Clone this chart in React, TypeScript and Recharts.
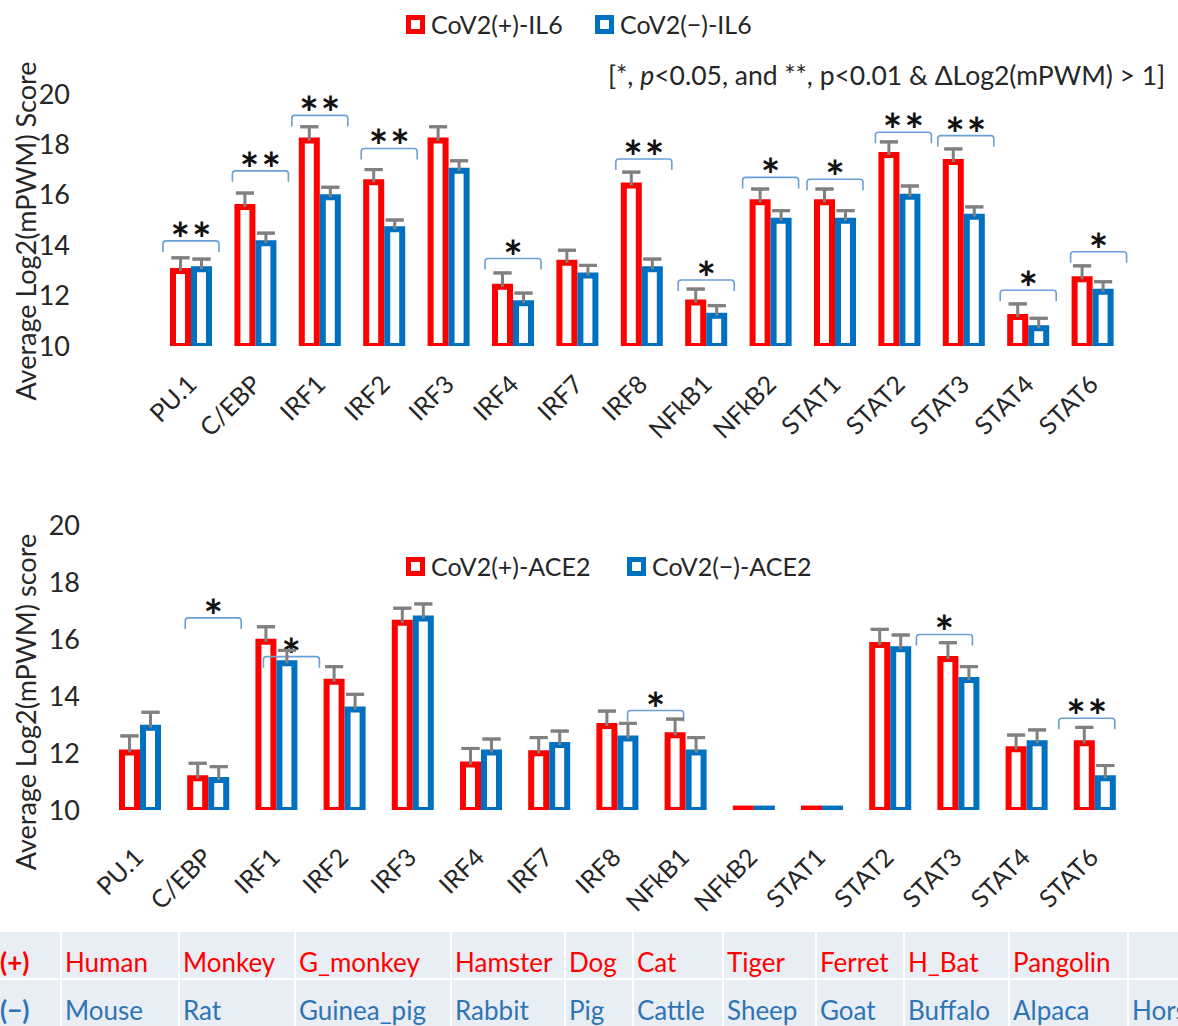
import React from 'react';
import { BarChart, Bar, XAxis, YAxis, ErrorBar } from 'recharts';

// transcription factor categories (same order in both panels)
const categories = ['PU.1', 'C/EBP', 'IRF1', 'IRF2', 'IRF3', 'IRF4', 'IRF7', 'IRF8', 'NFkB1', 'NFkB2', 'STAT1', 'STAT2', 'STAT3', 'STAT4', 'STAT6'];
const yTicks = [10, 12, 14, 16, 18, 20];

// panel 1: IL6
const il6Pos = [12.98, 15.52, 18.15, 16.5, 18.15, 12.35, 13.3, 16.37, 11.73, 15.7, 15.7, 17.58, 17.3, 11.15, 12.65];
const il6PosErr = [0.52, 0.55, 0.55, 0.5, 0.55, 0.55, 0.5, 0.53, 0.53, 0.53, 0.53, 0.52, 0.52, 0.52, 0.53];
const il6Neg = [13.05, 14.08, 15.9, 14.63, 16.95, 11.7, 12.8, 13.05, 11.2, 14.97, 14.97, 15.92, 15.13, 10.7, 12.15];
const il6NegErr = [0.4, 0.4, 0.4, 0.37, 0.4, 0.4, 0.4, 0.4, 0.4, 0.4, 0.4, 0.43, 0.39, 0.4, 0.4];
const il6SigLevel = [14.17, 16.95, 19.15, 17.84, null, 13.47, null, 17.42, 12.62, 16.69, 16.62, 18.48, 18.35, 12.21, 13.74];
const il6SigMark = ['**', '**', '**', '**', '', '*', '', '**', '*', '*', '*', '**', '**', '*', '*'];

// panel 2: ACE2
const acePos = [12.02, 11.11, 15.9, 14.5, 16.57, 11.6, 11.99, 12.95, 12.62, 10.05, 10.05, 15.79, 15.3, 12.13, 12.34];
const acePosErr = [0.58, 0.53, 0.53, 0.53, 0.51, 0.56, 0.55, 0.52, 0.57, 0, 0, 0.55, 0.57, 0.5, 0.56];
const aceNeg = [12.89, 11.05, 15.15, 13.53, 16.72, 12.02, 12.28, 12.51, 12.02, 10.05, 10.05, 15.64, 14.56, 12.34, 11.11];
const aceNegErr = [0.54, 0.47, 0.45, 0.53, 0.51, 0.47, 0.49, 0.53, 0.52, 0, 0, 0.5, 0.47, 0.47, 0.45];
const aceSigLevel = [null, 16.74, 15.38, null, null, null, null, null, 13.49, null, null, null, 16.16, null, 13.22];
const aceSigMark = ['', '*', '*', '', '', '', '', '', '*', '', '', '', '*', '', '**'];

// species table
const plusSpecies = ['Human', 'Monkey', 'G_monkey', 'Hamster', 'Dog', 'Cat', 'Tiger', 'Ferret', 'H_Bat', 'Pangolin', ''];
const minusSpecies = ['Mouse', 'Rat', 'Guinea_pig', 'Rabbit', 'Pig', 'Cattle', 'Sheep', 'Goat', 'Buffalo', 'Alpaca', 'Horse'];
const colWidths = [60, 116, 114, 154, 112, 66, 88, 91, 86, 103, 117, 60];

const RED = '#ff0000';
const BLUE = '#0070c0';
const GREY = '#808080';
const BRACKET = '#6a9fd8';
const TEXT = '#262626';
const FONT = 'Lato, "Open Sans", sans-serif';

// horizontal nudges of the significance brackets (px)
const il6Shift: Record<string, number> = { 'C/EBP': 5, IRF2: 5, IRF8: 2, STAT2: 4, STAT3: 2, STAT6: 6 };
const aceShift: Record<string, number> = { 'C/EBP': 5, IRF1: 15, NFkB1: -30, STAT3: -14, STAT6: -8 };

const buildRows = (pos: number[], posErr: number[], neg: number[], negErr: number[], sig: (number | null)[], mark: string[]) =>
  categories.map((name, i) => ({
    name, pos: pos[i], posErr: posErr[i], neg: neg[i], negErr: negErr[i], sig: sig[i], mark: mark[i],
  }));

const il6Data = buildRows(il6Pos, il6PosErr, il6Neg, il6NegErr, il6SigLevel, il6SigMark);
const aceData = buildRows(acePos, acePosErr, aceNeg, aceNegErr, aceSigLevel, aceSigMark);

const stem = (k: string) => (d: any) => (d[k] ? [0, d[k]] : null);
const cap = (k: string) => (d: any) => (d[k] ? [-d[k], d[k]] : null);

const makeBracket = (shift: Record<string, number>) => (props: any) => {
  const { x, y, width, payload } = props;
  if (payload == null || payload.sig == null) return <g />;
  const s = shift[payload.name] ?? 0;
  const x0 = x + s;
  const x1 = x + width + s;
  const leg = 11;
  const r = 3;
  const two = payload.mark.length > 1;
  return (
    <g>
      <path
        d={`M${x0},${y + leg} L${x0},${y + r} Q${x0},${y} ${x0 + r},${y} L${x1 - r},${y} Q${x1},${y} ${x1},${y + r} L${x1},${y + leg}`}
        fill="none" stroke={BRACKET} strokeWidth={1.6}
      />
      <text x={(x0 + x1) / 2 + (two ? 1 : 0)} y={y + 15} textAnchor="middle" fontSize={46} fontWeight={700} fontFamily={FONT} fill="#111" letterSpacing={two ? 2 : 0}>
        {payload.mark}
      </text>
    </g>
  );
};

const makeTick = (dx: number, dy: number) => (props: any) => {
  const { x, y, payload } = props;
  const tx = x + dx;
  const ty = y + dy;
  return (
    <text x={tx} y={ty} textAnchor="end" transform={`rotate(-45 ${tx} ${ty})`} fontSize={25} fontFamily={FONT} fill={TEXT}>
      {payload.value}
    </text>
  );
};

type PanelProps = {
  data: any[];
  height: number;
  top: number;
  right: number;
  yWidth: number;
  padLeft: number;
  xHeight: number;
  tickDx: number;
  tickDy: number;
  shift: Record<string, number>;
  bracketWidth: number;
};

const Panel = ({ data, height, top, right, yWidth, padLeft, xHeight, tickDx, tickDy, shift, bracketWidth }: PanelProps) => (
  <BarChart width={1178} height={height} data={data} margin={{ top, right, left: 0, bottom: 0 }} barGap={6}>
    <XAxis dataKey="name" height={xHeight} padding={{ left: padLeft, right: 0 }} axisLine={false} tickLine={false} tickSize={0} tickMargin={0} interval={0} tick={makeTick(tickDx, tickDy)} />
    <XAxis xAxisId="sig" dataKey="name" hide padding={{ left: padLeft, right: 0 }} />
    <YAxis width={yWidth} domain={[10, 20]} ticks={yTicks} allowDataOverflow axisLine={false} tickLine={false} tickSize={0} tickMargin={8}
      tick={{ fontSize: 27, fill: TEXT, fontFamily: FONT }} />
    <Bar dataKey="pos" barSize={15} fill="#ffffff" stroke={RED} strokeWidth={6} isAnimationActive={false}>
      <ErrorBar dataKey={stem('posErr')} direction="y" width={0} stroke={GREY} strokeWidth={3} />
      <ErrorBar dataKey={cap('posErr')} direction="y" width={9} stroke={GREY} strokeWidth={3} />
    </Bar>
    <Bar dataKey="neg" barSize={15} fill="#ffffff" stroke={BLUE} strokeWidth={6} isAnimationActive={false}>
      <ErrorBar dataKey={stem('negErr')} direction="y" width={0} stroke={GREY} strokeWidth={3} />
      <ErrorBar dataKey={cap('negErr')} direction="y" width={9} stroke={GREY} strokeWidth={3} />
    </Bar>
    <Bar xAxisId="sig" dataKey="sig" barSize={bracketWidth} fill="none" shape={makeBracket(shift)} isAnimationActive={false} />
  </BarChart>
);

const LegendBox = ({ left, top, color, label }: { left: number; top: number; color: string; label: string }) => (
  <div style={{ position: 'absolute', left, top, display: 'flex', alignItems: 'center', fontSize: 25, color: TEXT, fontFamily: FONT, whiteSpace: 'nowrap' }}>
    <span style={{ display: 'inline-block', width: 9, height: 9, border: `5px solid ${color}`, background: '#fff', marginRight: 6 }} />
    <span>{label}</span>
  </div>
);

const rotatedTitle = (text: string, cx: number, cy: number) => (
  <div style={{ position: 'absolute', left: cx, top: cy, transform: 'translate(-50%, -50%) rotate(-90deg)', fontSize: 27, fontFamily: FONT, color: TEXT, whiteSpace: 'nowrap' }}>
    {text}
  </div>
);

const TableRow = ({ top, head, names, color }: { top: number; head: string; names: string[]; color: string }) => {
  let left = 0;
  const cells = [head, ...names].map((t, i) => {
    const cell = (
      <div key={i} style={{ position: 'absolute', left, top, width: colWidths[i], height: 46, background: '#e9edf4', overflow: 'hidden' }}>
        <span style={{ position: 'absolute', left: i === 0 ? 0 : 3, top: 17, fontSize: 26, lineHeight: '26px', color, fontWeight: i === 0 ? 700 : 400, fontFamily: FONT, whiteSpace: 'nowrap' }}>{t}</span>
      </div>
    );
    left += colWidths[i] + 2;
    return cell;
  });
  return <>{cells}</>;
};

export default function App() {
  return (
    <div style={{ position: 'absolute', left: 0, top: 0, width: 1178, height: 1026, background: '#fff', overflow: 'hidden', fontFamily: FONT }}>
      <div style={{ position: 'absolute', left: 0, top: 0 }}>
        <Panel data={il6Data} height={460} top={94} right={53} yWidth={78} padLeft={81} xHeight={114} tickDx={7} tickDy={40} shift={il6Shift} bracketWidth={56} />
      </div>
      <div style={{ position: 'absolute', left: 0, top: 440 }}>
        <Panel data={aceData} height={480} top={85} right={49} yWidth={88} padLeft={18} xHeight={110} tickDx={5} tickDy={49} shift={aceShift} bracketWidth={56} />
      </div>

      <LegendBox left={406} top={9} color={RED} label="CoV2(+)-IL6" />
      <LegendBox left={595} top={9} color={BLUE} label="CoV2(−)-IL6" />
      <div style={{ position: 'absolute', left: 608, top: 59, fontSize: 26.5, fontFamily: FONT, color: TEXT, whiteSpace: 'nowrap' }}>
        [*, <i>p</i>&lt;0.05, and **, p&lt;0.01 &amp; ΔLog2(mPWM) &gt; 1]
      </div>
      {rotatedTitle('Average Log2(mPWM) Score', 25, 231)}

      <LegendBox left={406} top={551} color={RED} label="CoV2(+)-ACE2" />
      <LegendBox left={627} top={551} color={BLUE} label="CoV2(−)-ACE2" />
      {rotatedTitle('Average Log2(mPWM) score', 25, 702)}

      <TableRow top={932} head="(+)" names={plusSpecies} color={RED} />
      <TableRow top={980} head="(−)" names={minusSpecies} color="#2e75b6" />
    </div>
  );
}
